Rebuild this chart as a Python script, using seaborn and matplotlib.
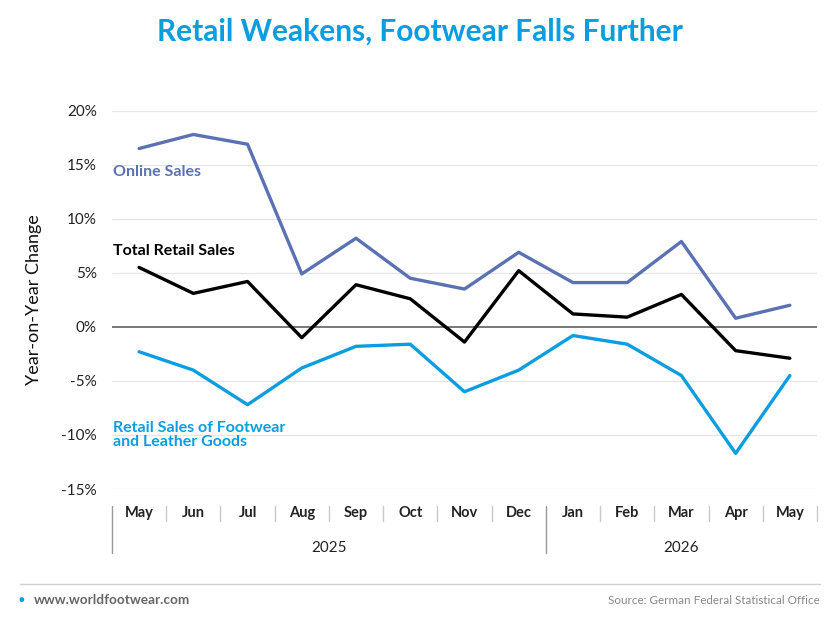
import numpy as np
import pandas as pd
import matplotlib
matplotlib.use("Agg")
import matplotlib.pyplot as plt
import matplotlib.transforms as mtransforms
import seaborn as sns

# data (year-on-year change, %)
months = ["May", "Jun", "Jul", "Aug", "Sep", "Oct", "Nov", "Dec",
          "Jan", "Feb", "Mar", "Apr", "May"]
years = ["2025"] * 8 + ["2026"] * 5
online = [16.5, 17.8, 16.9, 4.9, 8.2, 4.5, 3.5, 6.9, 4.1, 4.1, 7.9, 0.8, 2.0]
total = [5.5, 3.1, 4.2, -1.0, 3.9, 2.6, -1.4, 5.2, 1.2, 0.9, 3.0, -2.2, -2.9]
footwear = [-2.3, -4.0, -7.2, -3.8, -1.8, -1.6, -6.0, -4.0, -0.8, -1.6, -4.5, -11.7, -4.5]
y_ticks = [-15, -10, -5, 0, 5, 10, 15, 20]

series_names = ["Online Sales", "Total Retail Sales",
                "Retail Sales of Footwear\nand Leather Goods"]
colors = ["#5a72b4", "#000000", "#0a9ddf"]

rows = []
for name, vals in zip(series_names, [online, total, footwear]):
    for i, v in enumerate(vals):
        rows.append({"idx": i, "value": v, "series": name})
df = pd.DataFrame(rows)

sns.set_style("white")
plt.rcParams["font.family"] = ["Lato", "DejaVu Sans"]

fig = plt.figure(figsize=(8.4, 6.24), dpi=100)
ax = fig.add_axes([0.1333, 0.2163, 0.8393, 0.6063])

sns.lineplot(data=df, x="idx", y="value", hue="series", palette=colors,
             linewidth=2.4, legend=False, ax=ax)

ax.set_xlim(-0.5, len(months) - 0.5)
ax.set_ylim(-15, 20)
ax.set_yticks(y_ticks)
ax.set_yticklabels([f"{t}%" for t in y_ticks], fontsize=11, color="#222222")
ax.set_xticks(range(len(months)))
ax.set_xticklabels(months, fontsize=10.5, fontweight="bold", color="#222222")
ax.tick_params(axis="y", length=0, pad=11)
ax.tick_params(axis="x", length=0, pad=12)
ax.set_xlabel("")
ax.set_ylabel("Year-on-Year Change", fontsize=13, color="#111111", labelpad=14)

for s in ax.spines.values():
    s.set_visible(False)

for t in y_ticks:
    if t == 0:
        ax.axhline(0, color="#777777", linewidth=1.4, zorder=1)
    else:
        ax.axhline(t, color="#e6e6e6", linewidth=0.9, zorder=0)

# separators under the month labels
trans = mtransforms.blended_transform_factory(ax.transData, ax.transAxes)
bounds = np.arange(len(months) + 1) - 0.5
year_starts = [i for i in range(len(years)) if i == 0 or years[i] != years[i - 1]]
for b in bounds:
    if (b + 0.5) in year_starts:
        ax.plot([b, b], [-0.045, -0.17], color="#999999", lw=1, transform=trans, clip_on=False)
    else:
        ax.plot([b, b], [-0.045, -0.085], color="#c8c8c8", lw=1, transform=trans, clip_on=False)

for yr in dict.fromkeys(years):
    pos = [i for i, y in enumerate(years) if y == yr]
    ax.text(np.mean(pos), -0.157, yr, transform=trans, ha="center", va="center",
            fontsize=11, color="#222222")

# series labels
ax.text(0.002, 0.838, series_names[0], transform=ax.transAxes, color=colors[0],
        fontsize=11.5, fontweight="bold", va="center")
ax.text(0.002, 0.629, series_names[1], transform=ax.transAxes, color=colors[1],
        fontsize=11.5, fontweight="bold", va="center")
ax.text(0.002, 0.143, series_names[2], transform=ax.transAxes, color=colors[2],
        fontsize=11.5, fontweight="bold", va="center", linespacing=1.05)

fig.text(0.5, 0.950, "Retail Weakens, Footwear Falls Further", ha="center", va="center",
         fontsize=21.5, fontweight="bold", color="#0a9ddf")

# footer
fig.add_artist(plt.Line2D([0.024, 0.976], [0.064, 0.064], color="#d0d0d0", lw=1))
fig.text(0.022, 0.038, "\u25CF", color="#0a9ddf", fontsize=7, ha="left", va="center")
fig.text(0.04, 0.038, "www.worldfootwear.com", color="#666666", fontsize=9.8,
         fontweight="bold", ha="left", va="center")
fig.text(0.976, 0.038, "Source: German Federal Statistical Office", color="#888888",
         fontsize=8.4, ha="right", va="center")

fig.savefig("out.png", dpi=100, facecolor="white")
